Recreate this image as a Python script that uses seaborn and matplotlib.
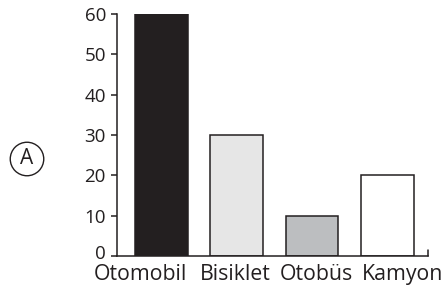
import matplotlib
matplotlib.use("Agg")
import matplotlib.pyplot as plt
import matplotlib.transforms as mtransforms
import seaborn as sns
import pandas as pd

categories = ["Otomobil", "Bisiklet", "Otobüs", "Kamyon"]
values = [60, 30, 10, 20]
bar_colors = ["#231f20", "#e6e6e6", "#bcbec0", "#ffffff"]
yticks = [0, 10, 20, 30, 40, 50, 60]

sns.set_style("white")
plt.rcParams["font.family"] = ["Open Sans", "DejaVu Sans"]

df = pd.DataFrame({"cat": categories, "val": values})

W, H = 442, 293
fig = plt.figure(figsize=(W/100, H/100), dpi=100)
ax = fig.add_axes([117/W, 1 - 256/H, (428-117)/W, (256-14)/H])

sns.barplot(data=df, x="cat", y="val", hue="cat", palette=bar_colors,
            legend=False, width=0.70, edgecolor="#231f20", linewidth=1.1,
            saturation=1, ax=ax)

ax.set_xlim(-0.59, 3.54)
ax.set_ylim(0, 60)
ax.set_yticks(yticks)
ax.set_xlabel("")
ax.set_ylabel("")
for s in ["top", "right"]:
    ax.spines[s].set_visible(False)
for s in ["left", "bottom"]:
    ax.spines[s].set_color("#231f20")
    ax.spines[s].set_linewidth(1.1)
ax.tick_params(axis="y", direction="out", length=4, width=1.1, color="#231f20",
               labelsize=13.5, pad=4, labelcolor="#231f20", left=True)
ax.tick_params(axis="x", length=0, labelbottom=False)
# lift the "0" label slightly, as in the reference
for lab in ax.get_yticklabels():
    if lab.get_text() == "0":
        lab.set_transform(lab.get_transform() +
                          mtransforms.ScaledTranslation(0, 4/100, fig.dpi_scale_trans))

# small upward tick at right end of x axis
ax.plot([1, 1], [0, 0.025], transform=ax.transAxes, color="#231f20", lw=1.1,
        clip_on=False)

# category names written as one continuous line under the bars
label_left = [94, 200, 280, 362]
for name, xl in zip(categories, label_left):
    fig.text(xl/W, 1 - 280/H, name, ha="left", va="baseline",
             fontsize=15.3, color="#231f20")

# circled A label
fig.text(27/W, 1 - 159/H, "A", ha="center", va="center", fontsize=15,
         color="#231f20",
         bbox=dict(boxstyle="circle,pad=0.3", fc="white", ec="#231f20", lw=1.0))

fig.savefig("out.png", dpi=100)
